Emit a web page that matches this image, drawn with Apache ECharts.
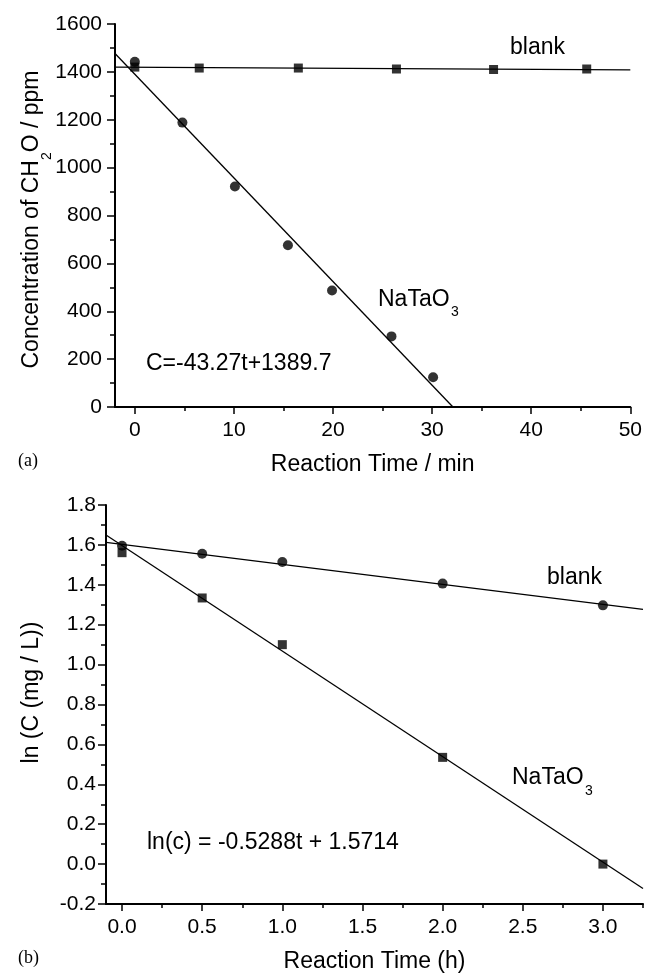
<!DOCTYPE html>
<html>
<head>
<meta charset="utf-8">
<script src="https://cdn.jsdelivr.net/npm/echarts@6/dist/echarts.min.js"></script>
<style>html,body{margin:0;padding:0;background:#fff;}#c{width:645px;height:974px;}</style>
</head>
<body>
<div id="c"></div>
<script>
// ---- Panel (a) data ----
const blankTimeA = [0, 6.5, 16.5, 26.4, 36.2, 45.6];
const blankConcA = [1420, 1416, 1416, 1412, 1410, 1412];
const naTimeA = [0, 4.8, 10.1, 15.45, 19.9, 25.9, 30.1];
const naConcA = [1442, 1188, 921, 676, 487, 295, 124];
const blankFitA = [[-2, 1420], [50, 1408]];
const naFitA = [[-2, 1477], [32.1, 0]];
const xTicksA = [0, 10, 20, 30, 40, 50];
const xMinorA = [5, 15, 25, 35, 45];

// ---- Panel (b) data ----
const blankTimeB = [0, 0.5, 1, 2, 3];
const blankLnB = [1.596, 1.556, 1.514, 1.406, 1.297];
const naTimeB = [0, 0.5, 1, 2, 3];
const naLnB = [1.561, 1.334, 1.10, 0.535, 0.0];
const blankFitB = [[-0.1, 1.613], [3.25, 1.277]];
const naFitB = [[-0.1, 1.65], [3.25, -0.122]];
const xTicksB = [0, 0.5, 1.0, 1.5, 2.0, 2.5, 3.0];
const xMinorB = [0.25, 0.75, 1.25, 1.75, 2.25, 2.75, 3.25];

const FONT = "'Liberation Sans', Arial, sans-serif";
const zip = (a, b) => a.map((v, i) => [v, b[i]]);

const axisLine = { show: true, onZero: false, lineStyle: { color: '#000', width: 2 } };
const tickStyle = { color: '#000', width: 1.5 };
const labelBase = { color: '#000', fontFamily: FONT, fontSize: 21 };
const nameBase = { color: '#000', fontFamily: FONT, fontSize: 23 };
// subscript via equal-height padded tokens: main text at top, subscript lower
const titleRich = {
  m: { fontFamily: FONT, fontSize: 23, color: '#000', lineHeight: 23, padding: [0, 0, 11, 0] },
  s: { fontFamily: FONT, fontSize: 14, color: '#000', lineHeight: 14, padding: [20, 0, 0, 0] }
};

function mainX(grid, min, max, ticks, fmt, name) {
  return {
    type: 'value', gridIndex: grid, min: min, max: max, position: 'bottom',
    axisLine: axisLine,
    axisTick: { show: true, customValues: ticks, length: 7, lineStyle: tickStyle },
    axisLabel: Object.assign({ customValues: ticks, margin: 13, formatter: fmt }, labelBase),
    splitLine: { show: false },
    name: name, nameLocation: 'middle', nameGap: 46, nameMoveOverlap: false, nameTextStyle: nameBase
  };
}
function minorX(grid, min, max, ticks) {
  return {
    type: 'value', gridIndex: grid, min: min, max: max, position: 'bottom',
    axisLine: { show: false, onZero: false },
    axisTick: { show: true, customValues: ticks, length: 4, lineStyle: tickStyle },
    axisLabel: { show: false },
    splitLine: { show: false }
  };
}
function subLabel(left, top, main, sub, subDx, subDy) {
  return {
    type: 'group', left: left, top: top,
    children: [
      { type: 'text', x: 0, y: 0, style: { text: main, fill: '#000', font: "23px " + FONT } },
      { type: 'text', x: subDx, y: subDy, style: { text: sub, fill: '#000', font: "14px " + FONT } }
    ]
  };
}

const option = {
  animation: false,
  backgroundColor: '#fff',
  grid: [
    { left: 115, right: 13, top: 24, height: 383 },
    { left: 106, right: 2, top: 505, height: 399 }
  ],
  xAxis: [
    mainX(0, -2, 50, xTicksA, v => String(v), 'Reaction Time / min'),
    minorX(0, -2, 50, xMinorA),
    mainX(1, -0.1, 3.25, xTicksB, v => v.toFixed(1), 'Reaction Time (h)'),
    minorX(1, -0.1, 3.25, xMinorB)
  ],
  yAxis: [
    {
      type: 'value', gridIndex: 0, min: 0, max: 1600, interval: 200, position: 'left',
      axisLine: axisLine,
      axisTick: { show: true, length: 8, lineStyle: tickStyle },
      minorTick: { show: true, splitNumber: 2, length: 5, lineStyle: tickStyle },
      axisLabel: Object.assign({ margin: 13, formatter: v => String(v) }, labelBase),
      splitLine: { show: false }, minorSplitLine: { show: false },
      name: '{m|Concentration of CH}{s|2}{m|O / ppm}',
      nameLocation: 'middle', nameGap: 66, nameMoveOverlap: false,
      nameTextStyle: Object.assign({ rich: titleRich, padding: [0, 8, 0, 0] }, nameBase)
    },
    {
      type: 'value', gridIndex: 1, min: -0.2, max: 1.8, interval: 0.2, position: 'left',
      axisLine: axisLine,
      axisTick: { show: true, length: 8, lineStyle: tickStyle },
      minorTick: { show: true, splitNumber: 2, length: 5, lineStyle: tickStyle },
      axisLabel: Object.assign({ margin: 10, formatter: v => v.toFixed(1) }, labelBase),
      splitLine: { show: false }, minorSplitLine: { show: false },
      name: 'ln (C (mg / L))',
      nameLocation: 'middle', nameGap: 63, nameMoveOverlap: false,
      nameTextStyle: Object.assign({ padding: [0, 0, 0, 24] }, nameBase)
    }
  ],
  series: [
    { type: 'line', xAxisIndex: 0, yAxisIndex: 0, data: blankFitA, showSymbol: false, lineStyle: { color: '#000', width: 1.3 }, silent: true, z: 1 },
    { type: 'line', xAxisIndex: 0, yAxisIndex: 0, data: naFitA, showSymbol: false, lineStyle: { color: '#000', width: 1.3 }, silent: true, z: 1 },
    { type: 'scatter', xAxisIndex: 0, yAxisIndex: 0, data: zip(naTimeA, naConcA), symbol: 'circle', symbolSize: 10, itemStyle: { color: '#000' }, z: 2 },
    { type: 'scatter', xAxisIndex: 0, yAxisIndex: 0, data: zip(blankTimeA, blankConcA), symbol: 'rect', symbolSize: 9, itemStyle: { color: '#000' }, z: 3 },

    { type: 'line', xAxisIndex: 2, yAxisIndex: 1, data: blankFitB, showSymbol: false, lineStyle: { color: '#000', width: 1.3 }, silent: true, z: 1 },
    { type: 'line', xAxisIndex: 2, yAxisIndex: 1, data: naFitB, showSymbol: false, lineStyle: { color: '#000', width: 1.3 }, silent: true, z: 1 },
    { type: 'scatter', xAxisIndex: 2, yAxisIndex: 1, data: zip(blankTimeB, blankLnB), symbol: 'circle', symbolSize: 10, itemStyle: { color: '#000' }, z: 2 },
    { type: 'scatter', xAxisIndex: 2, yAxisIndex: 1, data: zip(naTimeB, naLnB), symbol: 'rect', symbolSize: 9, itemStyle: { color: '#000' }, z: 3 }
  ],
  graphic: [
    { type: 'text', left: 510, top: 36, style: { text: 'blank', fill: '#000', font: "23px " + FONT } },
    subLabel(378, 288, 'NaTaO', '3', 73, 17),
    { type: 'text', left: 146, top: 352, style: { text: 'C=-43.27t+1389.7', fill: '#000', font: "23px " + FONT } },
    { type: 'text', left: 18, top: 452, style: { text: '(a)', fill: '#000', font: "18px 'Liberation Serif', 'Times New Roman', serif" } },

    { type: 'text', left: 547, top: 566, style: { text: 'blank', fill: '#000', font: "23px " + FONT } },
    subLabel(512, 766, 'NaTaO', '3', 73, 18),
    { type: 'text', left: 147, top: 831, style: { text: 'ln(c) = -0.5288t + 1.5714', fill: '#000', font: "23px " + FONT } },
    { type: 'text', left: 18, top: 949, style: { text: '(b)', fill: '#000', font: "18px 'Liberation Serif', 'Times New Roman', serif" } }
  ]
};

const chart = echarts.init(document.getElementById('c'), null, { renderer: 'canvas' });
chart.setOption(option);
</script>
</body>
</html>
